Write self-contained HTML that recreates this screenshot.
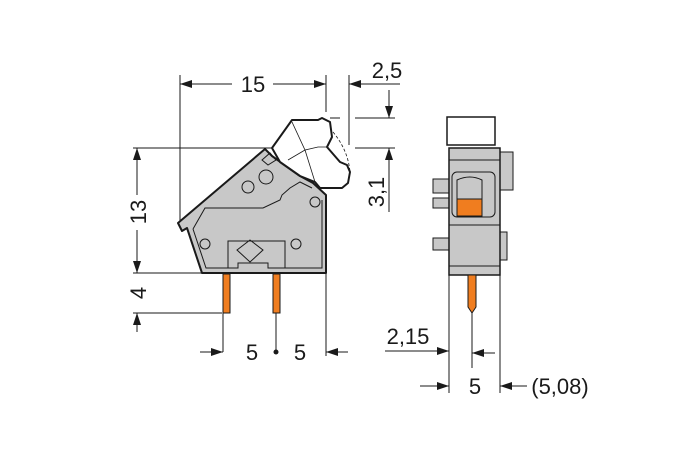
<!DOCTYPE html>
<html><head><meta charset="utf-8"><style>
html,body{margin:0;padding:0;background:#fff}
svg{display:block}
text{font-family:"Liberation Sans",sans-serif;font-size:22px;fill:#1a1a1a}
</style></head><body>
<svg width="697" height="449" viewBox="0 0 697 449" xmlns="http://www.w3.org/2000/svg">
<defs>
<marker id="a" markerWidth="12" markerHeight="8" refX="12" refY="4" orient="auto" markerUnits="userSpaceOnUse"><path d="M0,0 L12,4 L0,8 z" fill="#1a1a1a"/></marker>
</defs>
<g stroke="#1a1a1a" stroke-width="1" fill="none">
<!-- extension lines left view -->
<line x1="180" y1="75" x2="180" y2="223"/>
<line x1="326" y1="75" x2="326" y2="112"/>
<line x1="349" y1="75" x2="349" y2="145"/>
<line x1="133" y1="148" x2="278" y2="148"/>
<line x1="355" y1="148" x2="395" y2="148"/>
<line x1="330" y1="118" x2="340" y2="118"/>
<line x1="355" y1="118" x2="395" y2="118"/>
<line x1="133" y1="273" x2="205" y2="273"/>
<line x1="133" y1="313" x2="222" y2="313"/>
<line x1="223" y1="313" x2="223" y2="352"/>
<line x1="276" y1="313" x2="276" y2="350"/>
<line x1="326" y1="273" x2="326" y2="356"/>
<!-- 15 -->
<line x1="232" y1="84" x2="180" y2="84" marker-end="url(#a)"/>
<line x1="273" y1="84" x2="326" y2="84" marker-end="url(#a)"/>
<!-- 2,5 -->
<line x1="400" y1="84" x2="349" y2="84" marker-end="url(#a)"/>
<line x1="389" y1="90" x2="389" y2="118" marker-end="url(#a)"/>
<line x1="389" y1="212" x2="389" y2="148" marker-end="url(#a)"/>
<!-- 13 / 4 -->
<line x1="137" y1="195" x2="137" y2="148" marker-end="url(#a)"/>
<line x1="137" y1="230" x2="137" y2="273" marker-end="url(#a)"/>
<line x1="137" y1="332" x2="137" y2="313" marker-end="url(#a)"/>
<!-- bottom 5 5 -->
<line x1="200" y1="352" x2="223" y2="352" marker-end="url(#a)"/>
<line x1="348" y1="352" x2="326" y2="352" marker-end="url(#a)"/>
</g>
<circle cx="276" cy="352" r="2.5" fill="#1a1a1a"/>
<!-- left body -->
<path d="M178,223 L182,231 L187,228 L202,273 L326,273 L326,195 L313,183 L300,176 L272,156 L265,149 Z" fill="#c8c8c8" stroke="#1a1a1a" stroke-width="2" stroke-linejoin="round"/>
<g stroke="#1a1a1a" stroke-width="1" fill="none">
<path d="M193,229 L205,208 L263,208 L280,200 L282,195 L290,188 L300,182 L312,188"/>
<path d="M193,229 L206,268 L238,268 L238,263 L268,263 L268,268 L322,268 L322,200"/>
<path d="M228,268 L228,241 L285,241 L285,268"/>
<path d="M250,240 L263,250 L250,262 L237,250 Z"/>
<circle cx="205" cy="244" r="5"/><circle cx="296" cy="244" r="5"/>
<circle cx="248" cy="187" r="6"/><circle cx="266" cy="177" r="7"/><circle cx="315" cy="202" r="5"/>
<path d="M262,160 L270,153 L276,160 L268,165 Z"/>
</g>
<!-- lever -->
<path d="M272,148 L292,120 L318,120 L322,118 L330,122 L332,137 L327,147 L340,162 L347,165 L350,172 L348,183 L342,188 L320,188 L315,182 L300,176 L280,162 Z" fill="#fff" stroke="#1a1a1a" stroke-width="2" stroke-linejoin="round"/>
<g stroke="#1a1a1a" stroke-width="0.8" fill="none">
<path d="M292,122 L305,150 L318,147 L327,147"/>
<path d="M288,160 L305,150 L315,182"/>
<path d="M333,132 Q348,150 350,172" stroke-dasharray="3,2"/>
</g>
<!-- pins left -->
<rect x="223" y="274" width="7" height="39" fill="#f07d1f" stroke="#1a1a1a" stroke-width="1"/>
<rect x="273" y="274" width="7" height="39" fill="#f07d1f" stroke="#1a1a1a" stroke-width="1"/>
<!-- right view -->
<g stroke="#1a1a1a" stroke-width="1" fill="#c8c8c8">
<rect x="447" y="117" width="48" height="28" fill="#fff" stroke-width="1.5"/>
<rect x="433" y="179" width="16" height="14"/>
<rect x="433" y="198" width="16" height="10"/>
<rect x="433" y="238" width="16" height="12"/>
<rect x="500" y="152" width="13" height="38"/>
<rect x="500" y="232" width="7" height="28"/>
<rect x="449" y="148" width="51" height="127" stroke-width="1.5"/>
<rect x="452" y="172" width="43" height="45" rx="5"/>
<rect x="457" y="199" width="25" height="17" fill="#f07d1f"/>
<path d="M457,199 L457,180 Q470,174 482,180 L482,199" fill="none"/>
<line x1="449" y1="160" x2="500" y2="160"/>
<line x1="449" y1="225" x2="500" y2="225"/>
<line x1="449" y1="266" x2="500" y2="266"/>
<path d="M468,275 L468,307 L472,313 L476,307 L476,275 Z" fill="#f07d1f"/>
</g>
<g stroke="#1a1a1a" stroke-width="1" fill="none">
<line x1="449" y1="275" x2="449" y2="393"/>
<line x1="500" y1="275" x2="500" y2="393"/>
<line x1="472" y1="313" x2="472" y2="368"/>
<line x1="385" y1="351" x2="449" y2="351" marker-end="url(#a)"/>
<line x1="495" y1="353" x2="472" y2="353" marker-end="url(#a)"/>
<line x1="420" y1="386" x2="449" y2="386" marker-end="url(#a)"/>
<line x1="527" y1="386" x2="500" y2="386" marker-end="url(#a)"/>
</g>
<!-- texts -->
<text x="253" y="92" text-anchor="middle">15</text>
<text x="387" y="78" text-anchor="middle">2,5</text>
<text transform="translate(384,192) rotate(-90)" text-anchor="middle">3,1</text>
<text transform="translate(146,212) rotate(-90)" text-anchor="middle">13</text>
<text transform="translate(146,293) rotate(-90)" text-anchor="middle">4</text>
<text x="252" y="360" text-anchor="middle">5</text>
<text x="300" y="360" text-anchor="middle">5</text>
<text x="408" y="344" text-anchor="middle">2,15</text>
<text x="475" y="394" text-anchor="middle">5</text>
<text x="560" y="394" text-anchor="middle">(5,08)</text>
</svg>
</body></html>
